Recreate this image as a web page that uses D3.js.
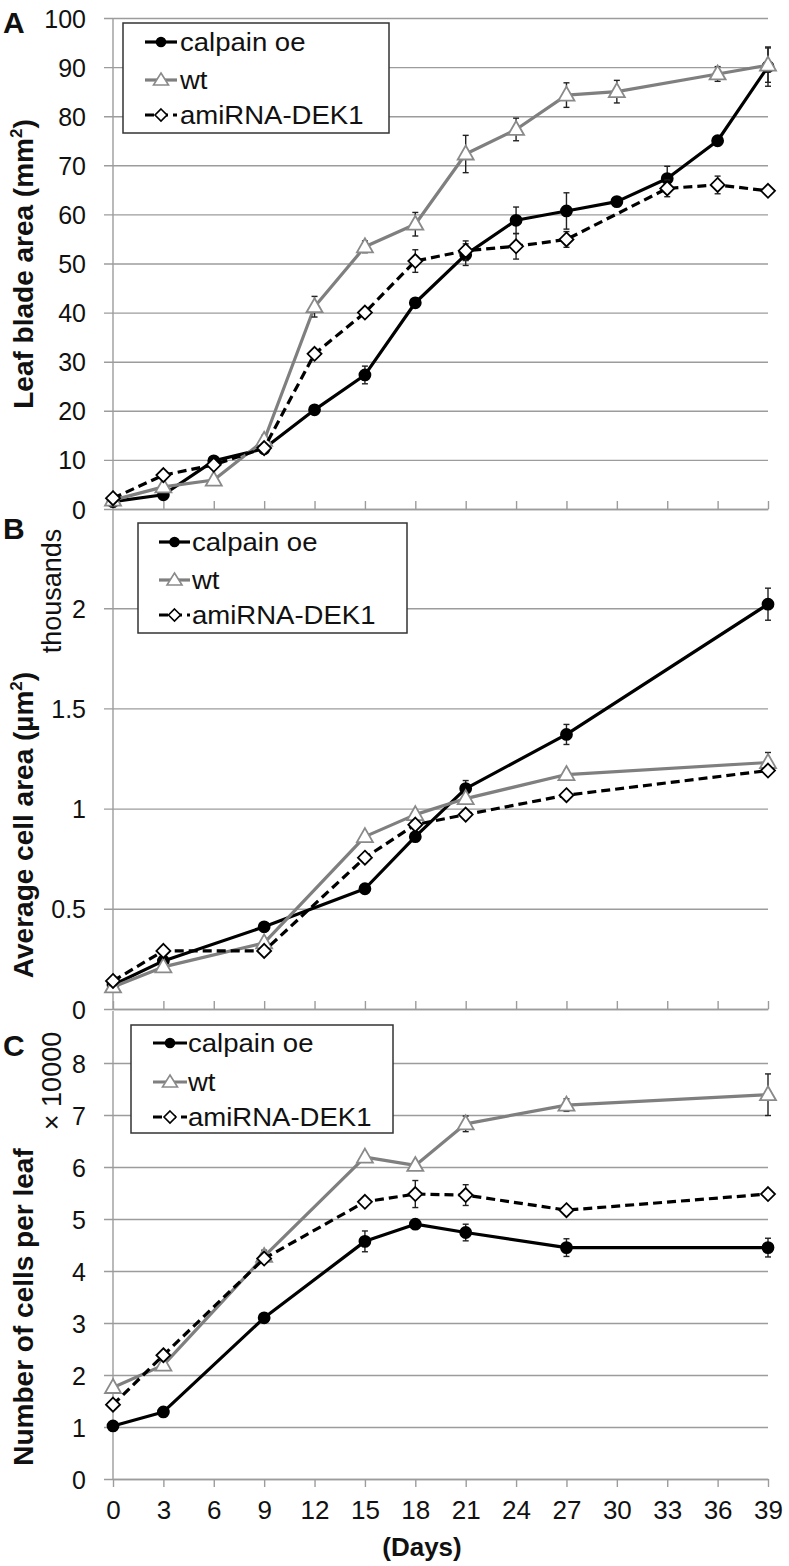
<!DOCTYPE html>
<html><head><meta charset="utf-8">
<script src="https://cdn.jsdelivr.net/npm/d3@7"></script>
<style>
body{margin:0;background:#fff}
svg{display:block}
text{font-family:"Liberation Sans",Arial,sans-serif;fill:#111}
</style>
</head><body>
<svg id="chart" width="789" height="1566"></svg>
<script>
// ---------- DATA ----------
const seriesNames = ["calpain oe", "wt", "amiRNA-DEK1"];
const dayTicks = [0, 3, 6, 9, 12, 15, 18, 21, 24, 27, 30, 33, 36, 39];

// Panel A: leaf blade area (mm2)
const daysA = [0, 3, 6, 9, 12, 15, 18, 21, 24, 27, 30, 33, 36, 39];
const calpainA = [1.5, 2.9, 9.8, 12.3, 20.2, 27.3, 42.0, 51.8, 58.8, 60.7, 62.6, 67.3, 75.0, 90.1];
const calpainAErr = [0.3, 0.4, 0.6, 0.6, 0.7, 1.8, 0.8, 2.2, 2.7, 3.7, 0.8, 2.5, 0.8, 4.0];
const wtA = [1.8, 4.5, 5.9, 14.0, 41.2, 53.4, 58.0, 72.3, 77.3, 84.3, 85.0, null, 88.6, 90.4];
const wtAErr = [0.3, 0.5, 0.6, 1.0, 2.1, 1.2, 2.4, 3.8, 2.3, 2.5, 2.3, null, 1.5, 3.5];
const dekA = [2.2, 6.9, 9.0, 12.4, 31.6, 40.0, 50.5, 52.6, 53.5, 54.9, null, 65.3, 66.0, 64.8];
const dekAErr = [0.3, 0.4, 0.5, 0.5, 0.6, 0.6, 2.3, 2.0, 2.6, 1.6, null, 1.7, 1.8, 0];
const yTicksA = [0, 10, 20, 30, 40, 50, 60, 70, 80, 90, 100];

// Panel B: average cell area (thousands of um2)
const daysB = [0, 3, 9, 15, 18, 21, 27, 39];
const calpainB = [0.12, 0.24, 0.41, 0.60, 0.86, 1.10, 1.37, 2.02];
const calpainBErr = [0.005, 0.01, 0.01, 0.01, 0.015, 0.04, 0.05, 0.08];
const wtB = [0.11, 0.21, 0.33, 0.86, 0.97, 1.05, 1.17, 1.23];
const wtBErr = [0, 0, 0, 0, 0.01, 0.02, 0.02, 0.05];
const dekB = [0.14, 0.29, 0.29, 0.755, 0.92, 0.97, 1.067, 1.19];
const dekBErr = [0, 0, 0, 0, 0.01, 0.01, 0.01, 0.02];
const yTicksB = [0, 0.5, 1, 1.5, 2];

// Panel C: number of cells per leaf (x 10000)
const daysC = [0, 3, 9, 15, 18, 21, 27, 39];
const calpainC = [1.02, 1.29, 3.10, 4.57, 4.90, 4.74, 4.45, 4.45];
const calpainCErr = [0.03, 0.03, 0.05, 0.2, 0.05, 0.16, 0.17, 0.18];
const wtC = [1.76, 2.19, 4.28, 6.19, 6.03, 6.83, 7.19, 7.39];
const wtCErr = [0.05, 0.05, 0.12, 0.05, 0.05, 0.15, 0.12, 0.4];
const dekC = [1.43, 2.38, 4.24, 5.33, 5.48, 5.46, 5.17, 5.48];
const dekCErr = [0.05, 0.05, 0.05, 0.05, 0.26, 0.2, 0.05, 0.03];
const yTicksC = [0, 1, 2, 3, 4, 5, 6, 7, 8];

// ---------- STYLE / LAYOUT ----------
const svg = d3.select("#chart");
const X0 = 113, X1 = 768;
const gridColor = "#9c9c9c";
const x = d3.scaleLinear().domain([0, 39]).range([X0, X1]);

const styles = [
  {stroke: "#000", width: 3.2, dash: null, marker: "circle", mfill: "#000", mstroke: "#000"},
  {stroke: "#7f7f7f", width: 3.2, dash: null, marker: "triangle", mfill: "#fff", mstroke: "#8a8a8a"},
  {stroke: "#000", width: 3.2, dash: "9,5", marker: "diamond", mfill: "#fff", mstroke: "#000"}
];
const markerPath = {
  circle: "M-5.5,0A5.5,5.5 0 1,0 5.5,0A5.5,5.5 0 1,0 -5.5,0Z",
  triangle: "M0,-8.5L8,5.5L-8,5.5Z",
  diamond: "M0,-7L7,0L0,7L-7,0Z"
};
const legendMarkerPath = {
  circle: "M-4.5,0A4.5,4.5 0 1,0 4.5,0A4.5,4.5 0 1,0 -4.5,0Z",
  triangle: "M0,-7L7.5,5L-7.5,5Z",
  diamond: "M0,-6L6,0L0,6L-6,0Z"
};

function drawPanel(p) {
  const y = d3.scaleLinear().domain(p.domain).range([p.bottom, p.top]);
  const g = svg.append("g");

  // y axis with gridlines
  const ya = d3.axisLeft(y).tickValues(p.yTicks).tickFormat(d => String(d))
    .tickSizeInner(0).tickSizeOuter(0).tickPadding(27);
  const yg = g.append("g").attr("transform", `translate(${X0},0)`).call(ya);
  yg.select(".domain").remove();
  yg.selectAll(".tick line").attr("x1", -9).attr("x2", X1 - X0)
    .attr("stroke", gridColor).attr("stroke-width", 1.4);
  yg.selectAll(".tick text").attr("font-size", 25).attr("fill", "#111")
    .attr("font-family", '"Liberation Sans",Arial,sans-serif').attr("dy", "0.36em");

  // vertical axis line
  g.append("line").attr("x1", X0).attr("x2", X0)
    .attr("y1", y.range()[1]).attr("y2", y.range()[0])
    .attr("stroke", gridColor).attr("stroke-width", 1.4);

  // x axis
  const xa = d3.axisBottom(x).tickValues(dayTicks).tickSizeInner(p.xTickSize).tickSizeOuter(0)
    .tickFormat(p.xLabels ? (d => String(d)) : () => "").tickPadding(14);
  const xg = g.append("g").attr("transform", `translate(0,${p.bottom})`).call(xa);
  xg.select(".domain").attr("stroke", gridColor).attr("stroke-width", 1.4);
  xg.selectAll(".tick line").attr("stroke", gridColor).attr("stroke-width", 1.4);
  xg.selectAll(".tick text").attr("font-size", 26).attr("fill", "#111")
    .attr("font-family", '"Liberation Sans",Arial,sans-serif');

  // series
  p.series.forEach((s, si) => {
    const st = styles[si];
    const data = p.days.map((d, i) => ({day: d, v: s.values[i], e: s.errors[i]}))
      .filter(d => d.v != null);
    const line = d3.line().x(d => x(d.day)).y(d => y(d.v));
    g.append("path").datum(data).attr("d", line).attr("fill", "none")
      .attr("stroke", st.stroke).attr("stroke-width", st.width)
      .attr("stroke-dasharray", st.dash).attr("stroke-linejoin", "round");
    const eb = g.append("g").attr("stroke", "#222").attr("stroke-width", 1.4);
    data.filter(d => d.e && Math.abs(y(d.v + d.e) - y(d.v)) > 1.5).forEach(d => {
      const cx = x(d.day), y1 = y(d.v + d.e), y2 = y(d.v - d.e);
      eb.append("line").attr("x1", cx).attr("x2", cx).attr("y1", y1).attr("y2", y2);
      eb.append("line").attr("x1", cx - 3).attr("x2", cx + 3).attr("y1", y1).attr("y2", y1);
      eb.append("line").attr("x1", cx - 3).attr("x2", cx + 3).attr("y1", y2).attr("y2", y2);
    });
    g.selectAll(null).data(data).enter().append("path")
      .attr("d", markerPath[st.marker])
      .attr("transform", d => `translate(${x(d.day)},${y(d.v)})`)
      .attr("fill", st.mfill).attr("stroke", st.mstroke).attr("stroke-width", 1.8);
  });

  // legend
  const L = p.legend;
  const lg = g.append("g");
  lg.append("rect").attr("x", L.x0).attr("y", L.y0).attr("width", L.x1 - L.x0)
    .attr("height", L.y1 - L.y0).attr("fill", "#fff").attr("stroke", "#333").attr("stroke-width", 1.5);
  seriesNames.forEach((name, i) => {
    const st = styles[i];
    const cy = L.rows[i];
    lg.append("line").attr("x1", L.s0).attr("x2", L.s1).attr("y1", cy).attr("y2", cy)
      .attr("stroke", st.stroke).attr("stroke-width", st.width).attr("stroke-dasharray", st.dash);
    lg.append("path").attr("d", legendMarkerPath[st.marker])
      .attr("transform", `translate(${(L.s0 + L.s1) / 2},${cy})`)
      .attr("fill", st.mfill).attr("stroke", st.mstroke).attr("stroke-width", 1.6);
    lg.append("text").attr("transform", `translate(${L.tx},${cy + 9}) scale(1.08,1)`)
      .attr("font-size", 25.5).text(name);
  });

  // titles
  const t = g.append("text").attr("transform", `translate(33,${p.titleY}) rotate(-90)`)
    .attr("text-anchor", "middle").attr("font-size", 28).attr("font-weight", "bold");
  t.append("tspan").text(p.title);
  if (p.titleSup) {
    t.append("tspan").attr("font-size", 17).attr("dy", -11).text(p.titleSup);
    t.append("tspan").attr("dy", 11).text(")");
  }
  if (p.unit) {
    g.append("text").attr("transform", `translate(61,${p.unitY}) rotate(-90)`)
      .attr("text-anchor", "middle").attr("font-size", 27).text(p.unit);
  }
  g.append("text").attr("x", 3).attr("y", p.letterY).attr("font-size", 30)
    .attr("font-weight", "bold").text(p.letter);
}

drawPanel({
  domain: [0, 100], top: 18, bottom: 509, yTicks: yTicksA, xTickSize: -8, xLabels: false,
  days: daysA,
  series: [{values: calpainA, errors: calpainAErr}, {values: wtA, errors: wtAErr}, {values: dekA, errors: dekAErr}],
  legend: {x0: 123, x1: 389, y0: 23, y1: 133, s0: 145, s1: 177, tx: 180, rows: [42, 80, 115]},
  title: "Leaf blade area (mm", titleSup: "2", titleY: 264, letter: "A", letterY: 33
});
drawPanel({
  domain: [0, 2.5], top: 508, bottom: 1009, yTicks: yTicksB, xTickSize: -8, xLabels: false,
  days: daysB,
  series: [{values: calpainB, errors: calpainBErr}, {values: wtB, errors: wtBErr}, {values: dekB, errors: dekBErr}],
  legend: {x0: 138, x1: 407, y0: 523, y1: 633, s0: 159, s1: 190, tx: 192, rows: [542, 580, 615]},
  title: "Average cell area (µm", titleSup: "2", titleY: 825, unit: "thousands", unitY: 591,
  letter: "B", letterY: 539
});
drawPanel({
  domain: [0, 9], top: 1011, bottom: 1479, yTicks: yTicksC, xTickSize: 8, xLabels: true,
  days: daysC,
  series: [{values: calpainC, errors: calpainCErr}, {values: wtC, errors: wtCErr}, {values: dekC, errors: dekCErr}],
  legend: {x0: 131, x1: 393, y0: 1025, y1: 1133, s0: 153, s1: 187, tx: 188, rows: [1043, 1082, 1117]},
  title: "Number of cells per leaf", titleY: 1307, unit: "× 10000", unitY: 1081,
  letter: "C", letterY: 1056
});

svg.append("text").attr("x", 422).attr("y", 1556).attr("text-anchor", "middle")
  .attr("font-size", 26).attr("font-weight", "bold").text("(Days)");
</script>
</body></html>
